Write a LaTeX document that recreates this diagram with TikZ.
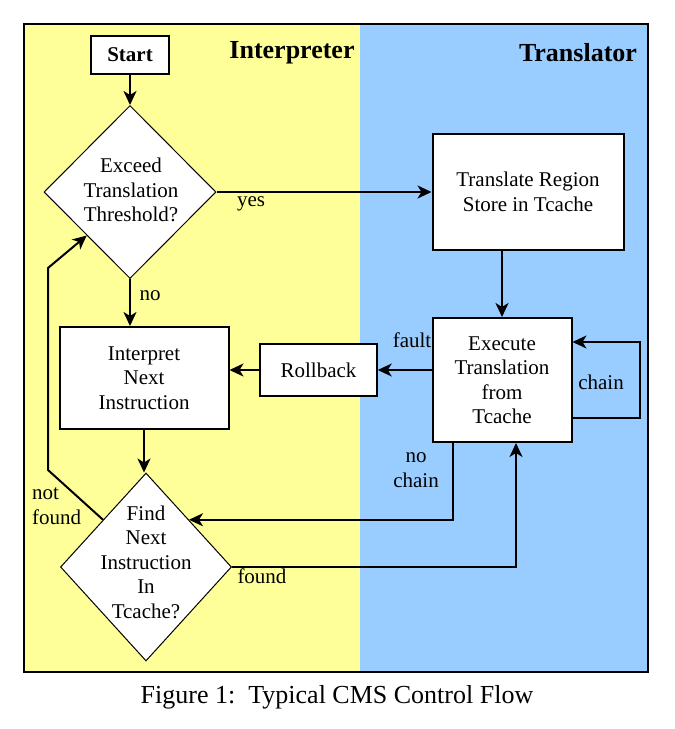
\documentclass[tikz,border=0pt]{standalone}
\usepackage{fontspec}
\setmainfont{Liberation Serif}
\usetikzlibrary{shapes.geometric,arrows.meta}

\definecolor{interpbg}{HTML}{FFFF99}
\definecolor{transbg}{HTML}{99CCFF}

\tikzstyle{procbox}=[draw, line width=2pt, fill=white, align=center, inner sep=0pt]
\tikzstyle{decision}=[draw, diamond, line width=1pt, fill=white, inner sep=0pt]
\tikzstyle{lbl}=[inner sep=0pt, align=center]
\tikzstyle{heading}=[inner sep=0pt, font=\fontsize{26}{30}\selectfont\bfseries]
\tikzstyle{flow}=[line width=2pt, -{Stealth[length=14pt, width=13pt, inset=4pt]}]

\begin{document}
\begin{tikzpicture}[x=1pt, y=-1pt, font=\fontsize{21}{24.5}\selectfont]
      \useasboundingbox (0,0) rectangle (675,729);
      \fill[interpbg] (24,24) rectangle (360,672);
      \fill[transbg] (360,24) rectangle (648,672);
      \draw[line width=1.5pt] (24,24) rectangle (648,672);

      \node[heading] (interp) at (292,53) {Interpreter};
      \node[heading] (trans) at (578,53) {Translator};

      \node[procbox, line width=1.5pt, minimum width=78pt, minimum height=38pt, font=\fontsize{21}{24.5}\selectfont\bfseries] (start) at (130,55) {Start};
      \node[decision, minimum width=172pt, minimum height=173pt] (exceed) at (130,192) {};
      \node[lbl] (exceedtxt) at (131,190) {Exceed\\Translation\\Threshold?};
      \node[procbox, minimum width=191pt, minimum height=116pt] (region) at (528,192) {Translate Region\\Store in Tcache};
      \node[procbox, minimum width=139pt, minimum height=124pt] (exec) at (502,380) {Execute\\Translation\\from\\Tcache};
      \node[procbox, line width=1.5pt, minimum width=117pt, minimum height=52pt] (rollback) at (318.5,370) {Rollback};
      \node[procbox, minimum width=169pt, minimum height=102pt] (interpret) at (144,378) {Interpret\\Next\\Instruction};
      \node[decision, minimum width=171pt, minimum height=188pt] (find) at (146,567) {};
      \node[lbl] (findtxt) at (146,562) {Find\\Next\\Instruction\\In\\Tcache?};

      \draw[flow] (start.south) -- (exceed.north);
      \draw[flow] (exceed.east) -- (region.west);
      \node[lbl] (yes) at (251,204) {yes};
      \draw[flow] (exec.north |- region.south) -- (exec.north);
      \draw[flow] ([yshift=-38pt]exec.east) -- ++(67.5,0) |- ([yshift=38pt]exec.east);
      \node[lbl] (chain) at (601,382) {chain};
      \draw[flow] (exec.west |- rollback.east) -- (rollback.east);
      \node[lbl] (fault) at (412,340) {fault};
      \draw[flow] (rollback.west) -- (rollback.west -| interpret.east);

      \draw[flow] (exceed.south) -- (exceed.south |- interpret.north);
      \node[lbl] (no) at (150,296) {no};
      \draw[flow] (interpret.south) -- (interpret.south |- find.north);
      \draw[flow] (find.north west) -- (48,470) -- (48,268) -- (exceed.south west);
      \node[lbl, anchor=west, align=left] (notfound) at (32,506) {not\\found};
      \draw[flow] ([xshift=-49pt]exec.south) |- (find.north east);
      \node[lbl] (nochain) at (416,470) {no\\chain};
      \draw[flow] (find.east) -| ([xshift=14pt]exec.south);
      \node[lbl] (found) at (262,576) {found};

      \node[inner sep=0pt, font=\fontsize{26}{30}\selectfont] (caption) at (337,697) {Figure 1:\ \ Typical CMS Control Flow};
    \end{tikzpicture}
\end{document}
